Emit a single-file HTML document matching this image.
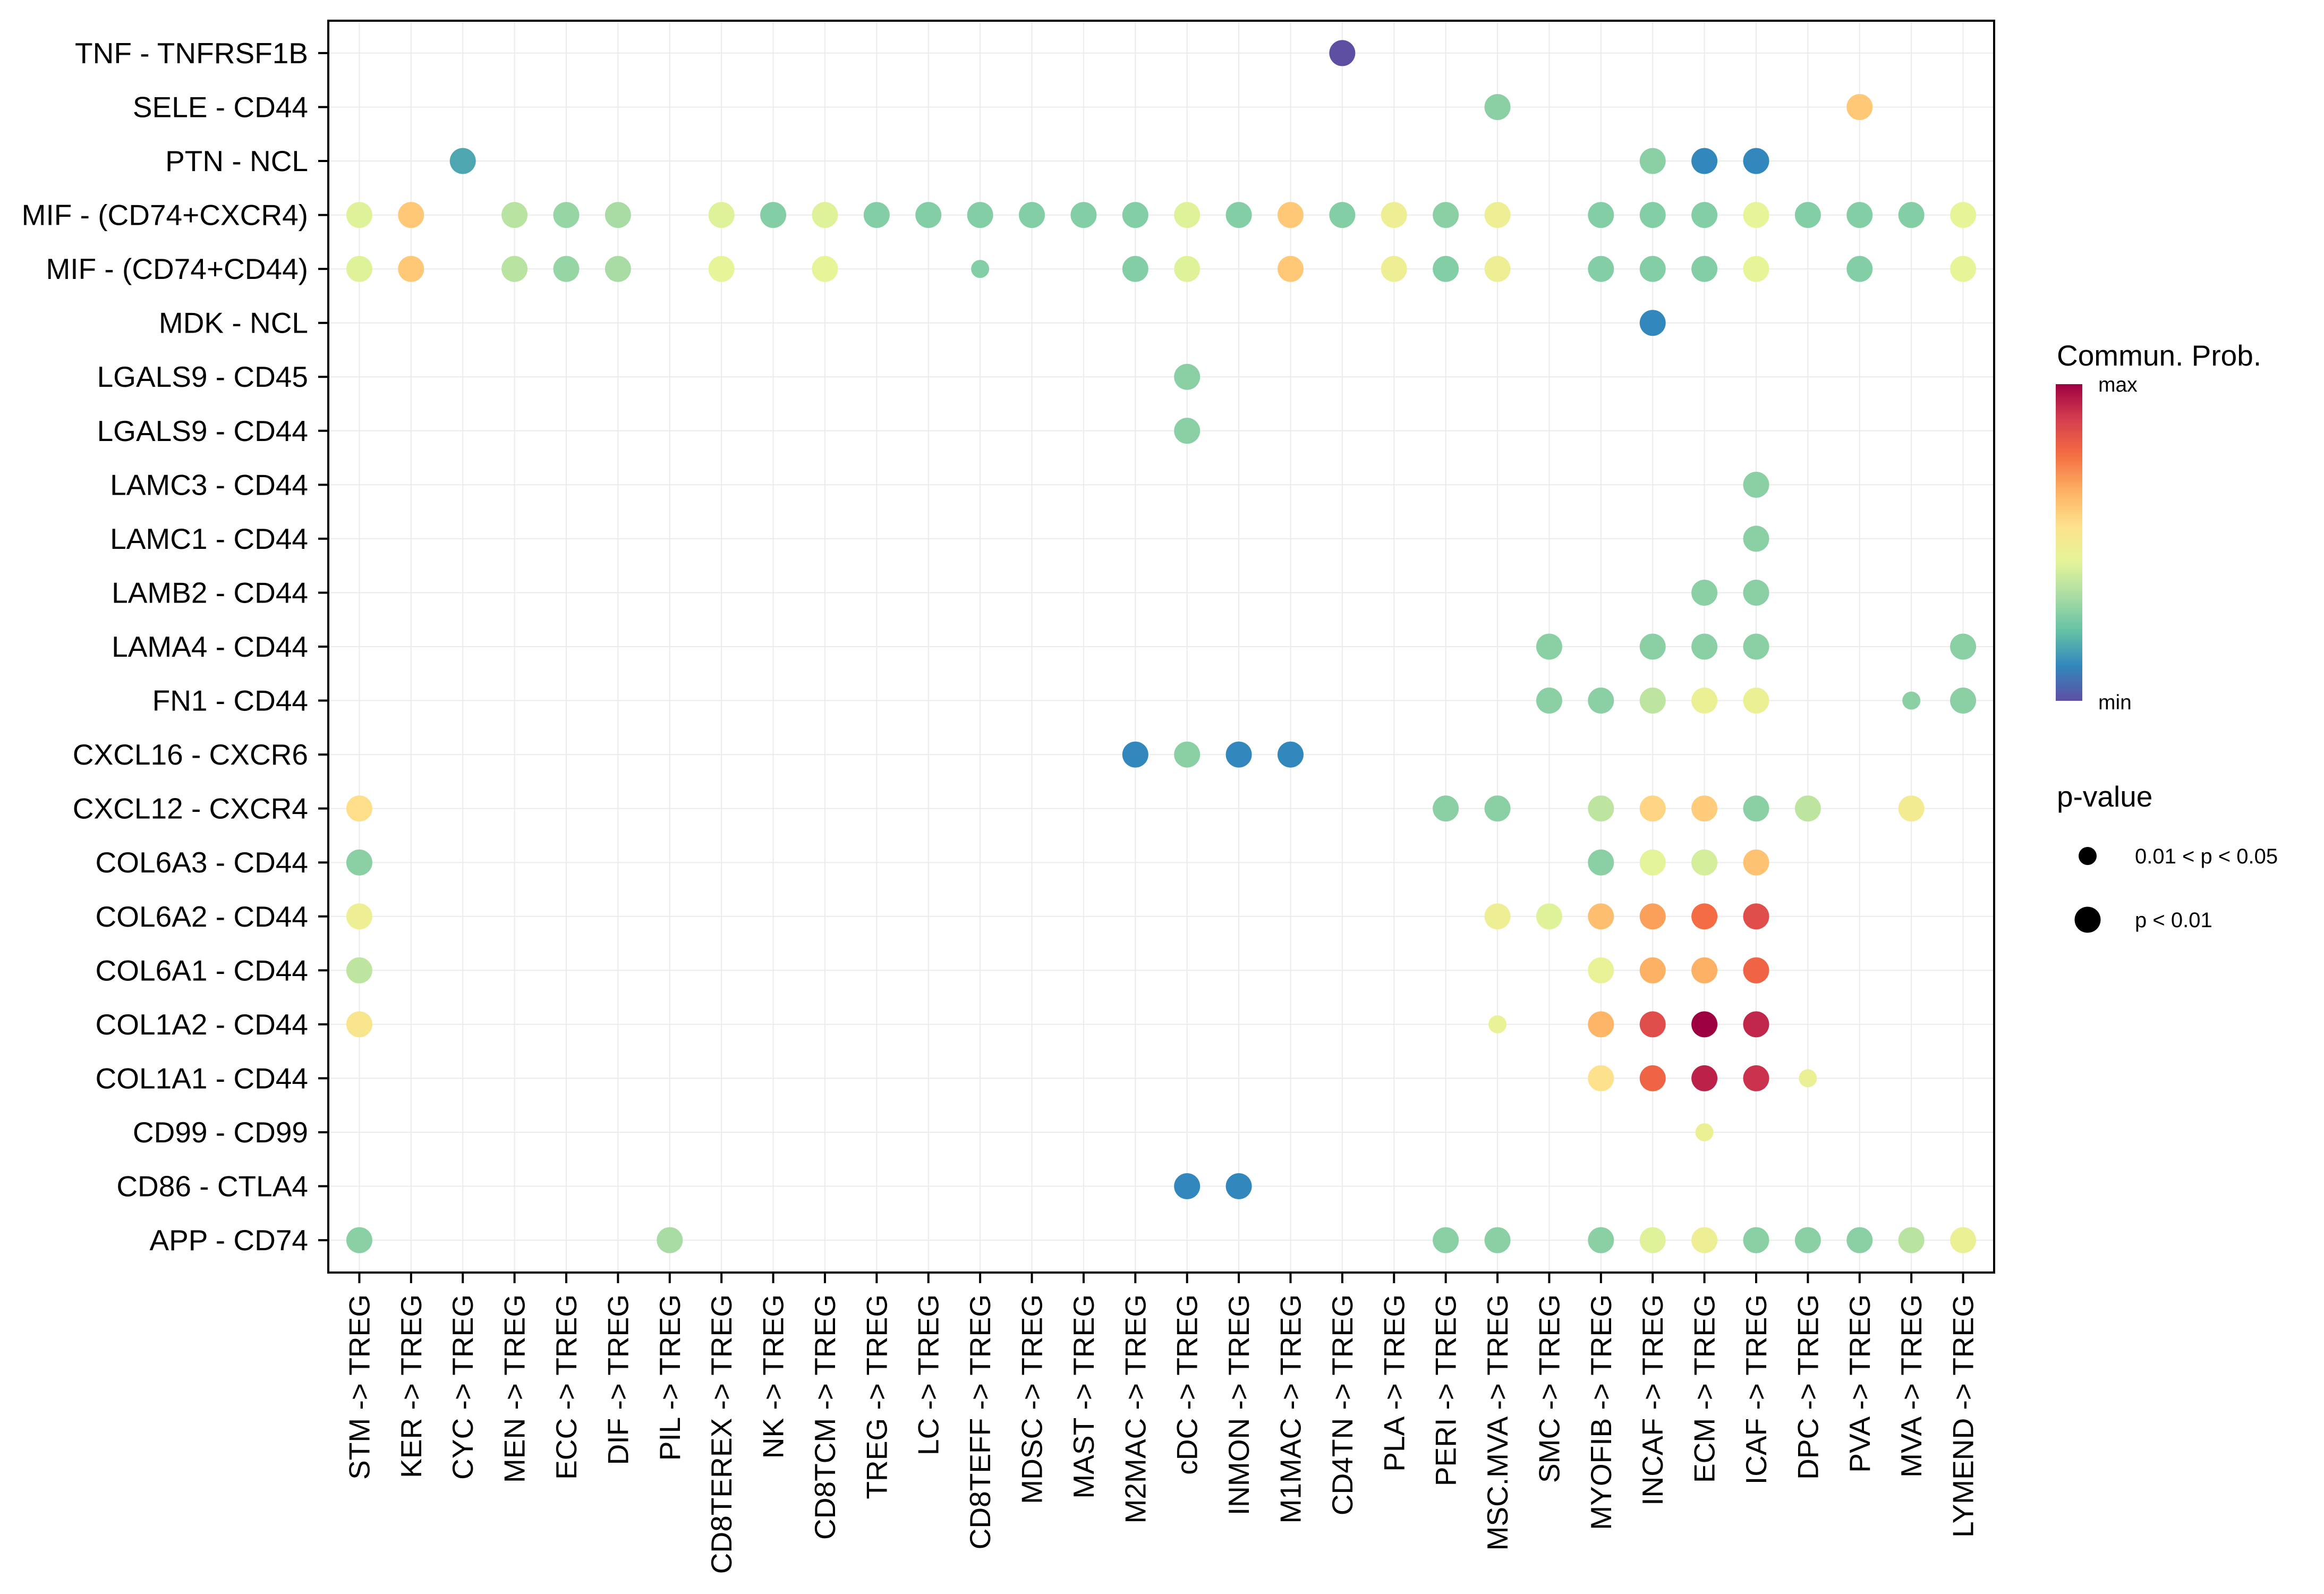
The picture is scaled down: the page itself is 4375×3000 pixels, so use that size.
<!DOCTYPE html>
<html><head><meta charset="utf-8">
<style>
html,body{margin:0;padding:0;background:#fff;}
svg{display:block;font-family:"Liberation Sans",Arial,sans-serif;}
</style></head>
<body>
<svg id="chart" width="4375" height="3000" viewBox="0 0 4375 3000">
<defs>
<linearGradient id="cbar" x1="0" y1="1" x2="0" y2="0">
<stop offset="0" stop-color="#5E4FA2"/><stop offset="0.111" stop-color="#3288BD"/>
<stop offset="0.222" stop-color="#66C2A5"/><stop offset="0.333" stop-color="#ABDDA4"/>
<stop offset="0.444" stop-color="#E6F598"/><stop offset="0.556" stop-color="#FEE08B"/>
<stop offset="0.667" stop-color="#FDAE61"/><stop offset="0.778" stop-color="#F46D43"/>
<stop offset="0.889" stop-color="#D53E4F"/><stop offset="1" stop-color="#9E0142"/>
</linearGradient>
</defs>
<g id="grid"></g>
<g id="dots"></g>
<rect x="618" y="39" width="3136" height="2356" fill="none" stroke="#000" stroke-width="4"/>
<g id="yaxis"></g>
<g id="xaxis"></g>
<g>
<text x="3872" y="688" font-size="55">Commun. Prob.</text>
<rect x="3870" y="723" width="50" height="596" fill="url(#cbar)"/>
<text x="3950" y="737" font-size="39">max</text>
<text x="3950" y="1335" font-size="39">min</text>
</g>
<g>
<text x="3872" y="1518" font-size="55">p-value</text>
<circle cx="3930" cy="1611" r="17" fill="#000"/>
<text x="4019" y="1625" font-size="40">0.01 &lt; p &lt; 0.05</text>
<circle cx="3930" cy="1731" r="24.5" fill="#000"/>
<text x="4019" y="1745" font-size="40">p &lt; 0.01</text>
</g>
</svg>
<script>
const cols = ["STM","KER","CYC","MEN","ECC","DIF","PIL","CD8TEREX","NK","CD8TCM","TREG","LC","CD8TEFF","MDSC","MAST","M2MAC","cDC","INMON","M1MAC","CD4TN","PLA","PERI","MSC.MVA","SMC","MYOFIB","INCAF","ECM","ICAF","DPC","PVA","MVA","LYMEND"];
const rows = ["TNF - TNFRSF1B","SELE - CD44","PTN - NCL","MIF - (CD74+CXCR4)","MIF - (CD74+CD44)","MDK - NCL","LGALS9 - CD45","LGALS9 - CD44","LAMC3 - CD44","LAMC1 - CD44","LAMB2 - CD44","LAMA4 - CD44","FN1 - CD44","CXCL16 - CXCR6","CXCL12 - CXCR4","COL6A3 - CD44","COL6A2 - CD44","COL6A1 - CD44","COL1A2 - CD44","COL1A1 - CD44","CD99 - CD99","CD86 - CTLA4","APP - CD74"];
// points: [row, col, prob (0..1), significance: 1 = p<0.01, 0 = 0.01<p<0.05]
const pointRows = ["TNF - TNFRSF1B","SELE - CD44","SELE - CD44","PTN - NCL","PTN - NCL","PTN - NCL","PTN - NCL",
"MIF - (CD74+CXCR4)","MIF - (CD74+CXCR4)","MIF - (CD74+CXCR4)","MIF - (CD74+CXCR4)","MIF - (CD74+CXCR4)","MIF - (CD74+CXCR4)","MIF - (CD74+CXCR4)","MIF - (CD74+CXCR4)","MIF - (CD74+CXCR4)","MIF - (CD74+CXCR4)","MIF - (CD74+CXCR4)","MIF - (CD74+CXCR4)","MIF - (CD74+CXCR4)","MIF - (CD74+CXCR4)","MIF - (CD74+CXCR4)","MIF - (CD74+CXCR4)","MIF - (CD74+CXCR4)","MIF - (CD74+CXCR4)","MIF - (CD74+CXCR4)","MIF - (CD74+CXCR4)","MIF - (CD74+CXCR4)","MIF - (CD74+CXCR4)","MIF - (CD74+CXCR4)","MIF - (CD74+CXCR4)","MIF - (CD74+CXCR4)","MIF - (CD74+CXCR4)","MIF - (CD74+CXCR4)","MIF - (CD74+CXCR4)","MIF - (CD74+CXCR4)",
"MIF - (CD74+CD44)","MIF - (CD74+CD44)","MIF - (CD74+CD44)","MIF - (CD74+CD44)","MIF - (CD74+CD44)","MIF - (CD74+CD44)","MIF - (CD74+CD44)","MIF - (CD74+CD44)","MIF - (CD74+CD44)","MIF - (CD74+CD44)","MIF - (CD74+CD44)","MIF - (CD74+CD44)","MIF - (CD74+CD44)","MIF - (CD74+CD44)","MIF - (CD74+CD44)","MIF - (CD74+CD44)","MIF - (CD74+CD44)","MIF - (CD74+CD44)","MIF - (CD74+CD44)","MIF - (CD74+CD44)",
"MDK - NCL","LGALS9 - CD45","LGALS9 - CD44","LAMC3 - CD44","LAMC1 - CD44","LAMB2 - CD44","LAMB2 - CD44",
"LAMA4 - CD44","LAMA4 - CD44","LAMA4 - CD44","LAMA4 - CD44","LAMA4 - CD44",
"FN1 - CD44","FN1 - CD44","FN1 - CD44","FN1 - CD44","FN1 - CD44","FN1 - CD44","FN1 - CD44",
"CXCL16 - CXCR6","CXCL16 - CXCR6","CXCL16 - CXCR6","CXCL16 - CXCR6",
"CXCL12 - CXCR4","CXCL12 - CXCR4","CXCL12 - CXCR4","CXCL12 - CXCR4","CXCL12 - CXCR4","CXCL12 - CXCR4","CXCL12 - CXCR4","CXCL12 - CXCR4","CXCL12 - CXCR4",
"COL6A3 - CD44","COL6A3 - CD44","COL6A3 - CD44","COL6A3 - CD44","COL6A3 - CD44",
"COL6A2 - CD44","COL6A2 - CD44","COL6A2 - CD44","COL6A2 - CD44","COL6A2 - CD44","COL6A2 - CD44","COL6A2 - CD44",
"COL6A1 - CD44","COL6A1 - CD44","COL6A1 - CD44","COL6A1 - CD44","COL6A1 - CD44",
"COL1A2 - CD44","COL1A2 - CD44","COL1A2 - CD44","COL1A2 - CD44","COL1A2 - CD44","COL1A2 - CD44",
"COL1A1 - CD44","COL1A1 - CD44","COL1A1 - CD44","COL1A1 - CD44","COL1A1 - CD44",
"CD99 - CD99","CD86 - CTLA4","CD86 - CTLA4",
"APP - CD74","APP - CD74","APP - CD74","APP - CD74","APP - CD74","APP - CD74","APP - CD74","APP - CD74","APP - CD74","APP - CD74","APP - CD74","APP - CD74"];
const pointCols = ["CD4TN","MSC.MVA","PVA","CYC","INCAF","ECM","ICAF",
"STM","KER","MEN","ECC","DIF","CD8TEREX","NK","CD8TCM","TREG","LC","CD8TEFF","MDSC","MAST","M2MAC","cDC","INMON","M1MAC","CD4TN","PLA","PERI","MSC.MVA","MYOFIB","INCAF","ECM","ICAF","DPC","PVA","MVA","LYMEND",
"STM","KER","MEN","ECC","DIF","CD8TEREX","CD8TCM","CD8TEFF","M2MAC","cDC","M1MAC","PLA","PERI","MSC.MVA","MYOFIB","INCAF","ECM","ICAF","PVA","LYMEND",
"INCAF","cDC","cDC","ICAF","ICAF","ECM","ICAF",
"SMC","INCAF","ECM","ICAF","LYMEND",
"SMC","MYOFIB","INCAF","ECM","ICAF","MVA","LYMEND",
"M2MAC","cDC","INMON","M1MAC",
"STM","PERI","MSC.MVA","MYOFIB","INCAF","ECM","ICAF","DPC","MVA",
"STM","MYOFIB","INCAF","ECM","ICAF",
"STM","MSC.MVA","SMC","MYOFIB","INCAF","ECM","ICAF",
"STM","MYOFIB","INCAF","ECM","ICAF",
"STM","MSC.MVA","MYOFIB","INCAF","ECM","ICAF",
"MYOFIB","INCAF","ECM","ICAF","DPC",
"ECM","cDC","INMON",
"STM","PIL","PERI","MSC.MVA","MYOFIB","INCAF","ECM","ICAF","DPC","PVA","MVA","LYMEND"];
const probValues = [0.0,0.28,0.61,0.17,0.28,0.11,0.11,
0.43,0.61,0.36,0.3,0.33,0.43,0.27,0.43,0.27,0.27,0.27,0.27,0.27,0.27,0.43,0.27,0.61,0.27,0.48,0.28,0.48,0.27,0.27,0.27,0.45,0.27,0.27,0.27,0.45,
0.43,0.61,0.36,0.3,0.33,0.45,0.45,0.27,0.27,0.43,0.61,0.48,0.27,0.48,0.27,0.27,0.27,0.45,0.27,0.45,
0.11,0.28,0.28,0.28,0.28,0.28,0.28,
0.28,0.28,0.28,0.28,0.28,
0.28,0.28,0.37,0.47,0.47,0.28,0.28,
0.11,0.28,0.11,0.11,
0.56,0.28,0.28,0.37,0.58,0.6,0.28,0.37,0.5,
0.28,0.28,0.44,0.41,0.62,
0.48,0.48,0.43,0.63,0.69,0.78,0.85,
0.37,0.46,0.66,0.66,0.8,
0.53,0.46,0.65,0.85,1.0,0.93,
0.55,0.8,0.94,0.91,0.47,
0.47,0.11,0.11,
0.28,0.33,0.28,0.28,0.28,0.43,0.48,0.28,0.28,0.28,0.36,0.47];
const pointSig = [1,1,1,1,1,1,1,
1,1,1,1,1,1,1,1,1,1,1,1,1,1,1,1,1,1,1,1,1,1,1,1,1,1,1,1,1,
1,1,1,1,1,1,1,0,1,1,1,1,1,1,1,1,1,1,1,1,
1,1,1,1,1,1,1,
1,1,1,1,1,
1,1,1,1,1,0,1,
1,1,1,1,
1,1,1,1,1,1,1,1,1,
1,1,1,1,1,
1,1,1,1,1,1,1,
1,1,1,1,1,
1,0,1,1,1,1,
1,1,1,1,0,
0,1,1,
1,1,1,1,1,1,1,1,1,1,1,1];

const NS="http://www.w3.org/2000/svg";
const PL=618, PR=3754, PT=39, PB=2395;
const xStep=(PR-PL)/(cols.length-1+1.2), yStep=(PB-PT)/(rows.length-1+1.2);
function xScale(c){return PL+(0.6+cols.indexOf(c))*xStep;}
function yScale(r){return PT+(0.6+rows.indexOf(r))*yStep;}
const stops=["#5E4FA2","#3288BD","#66C2A5","#ABDDA4","#E6F598","#FEE08B","#FDAE61","#F46D43","#D53E4F","#9E0142"];
function colorScale(v){
  v=Math.max(0,Math.min(1,v));const t=v*(stops.length-1);const i=Math.min(stops.length-2,Math.floor(t));const f=t-i;
  const a=stops[i],b=stops[i+1];const h=(s,k)=>parseInt(s.substr(1+2*k,2),16);
  const c=[0,1,2].map(k=>Math.round(h(a,k)+(h(b,k)-h(a,k))*f));
  return "rgb("+c.join(",")+")";
}
function sizeScale(s){return s?24.5:17;}
function mk(tag,attrs,parent){const e=document.createElementNS(NS,tag);for(const k in attrs)e.setAttribute(k,attrs[k]);parent.appendChild(e);return e;}

const grid=document.getElementById("grid");
cols.forEach(c=>{const l=mk("line",{x1:xScale(c),x2:xScale(c),y1:PT,y2:PB,stroke:"#EBEBEB","stroke-width":2},grid);

});
rows.forEach(r=>{const l=mk("line",{x1:PL,x2:PR,y1:yScale(r),y2:yScale(r),stroke:"#EBEBEB","stroke-width":2},grid);

});

const ya=document.getElementById("yaxis");
rows.forEach(r=>{const y=yScale(r);
const t=mk("line",{x1:PL-19,x2:PL,y1:y,y2:y,stroke:"#000","stroke-width":4},ya);


const tx=mk("text",{x:580,y:y+19,"font-size":55,"text-anchor":"end"},ya);tx.textContent=r;

});

const xa=document.getElementById("xaxis");
cols.forEach(c=>{const x=xScale(c);
const t=mk("line",{x1:x,x2:x,y1:PB,y2:PB+20,stroke:"#000","stroke-width":4},xa);


const tx=mk("text",{x:0,y:0,"font-size":55,"text-anchor":"end",transform:"translate("+(x+19)+",2436) rotate(-90)"},xa);tx.textContent=c+" -> TREG";

});

const dg=document.getElementById("dots");
probValues.forEach((v,i)=>{
const d=mk("circle",{cx:xScale(pointCols[i]),cy:yScale(pointRows[i]),r:sizeScale(pointSig[i]),fill:colorScale(v)},dg);

});
</script>
</body></html>
